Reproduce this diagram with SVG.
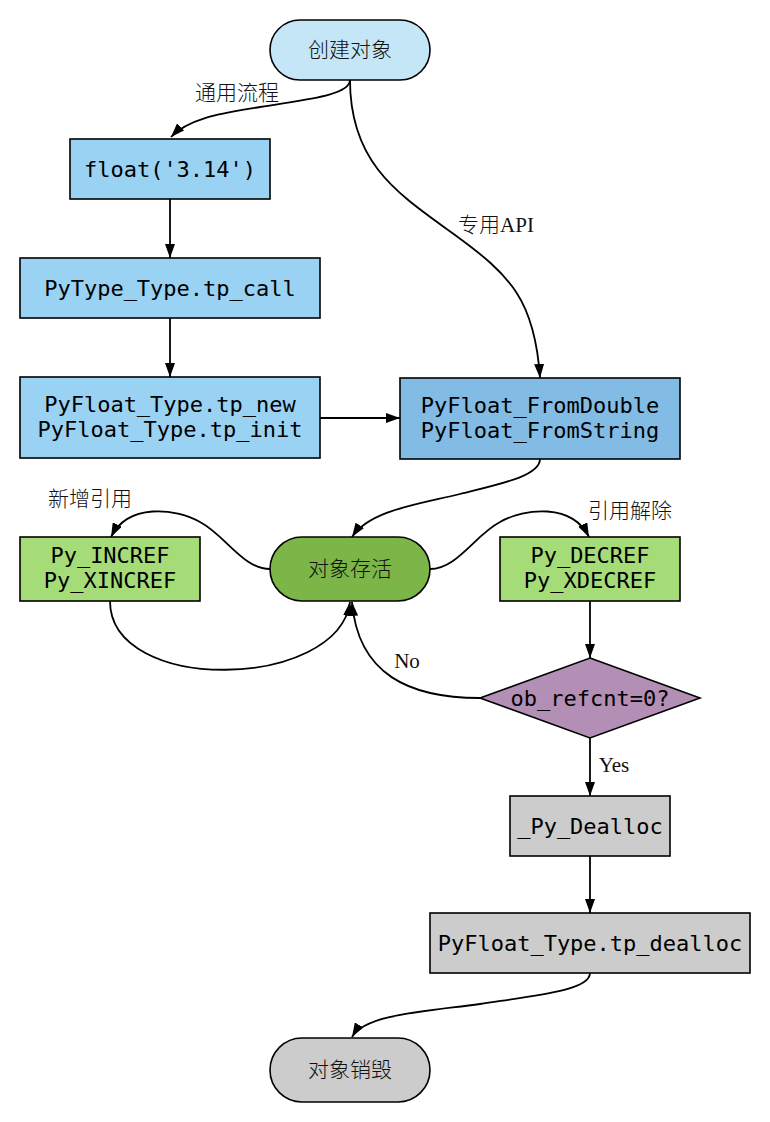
<svg xmlns="http://www.w3.org/2000/svg" width="770" height="1122" viewBox="0 0 770 1122">
<defs>
<marker id="arr" markerWidth="14" markerHeight="10" refX="14" refY="5" orient="auto" markerUnits="userSpaceOnUse">
<path d="M0,0 L14,5 L0,10 z" fill="#000"/>
</marker>
<style>
.n{stroke:#000;stroke-width:1.6}
.m{font-family:"DejaVu Sans Mono","Liberation Mono",monospace;font-size:22px;fill:#000;text-anchor:middle}
.c{font-family:"Noto Sans CJK SC","Liberation Sans",sans-serif;font-size:21px;fill:#111;text-anchor:middle;font-weight:300}
.l{font-family:"Liberation Serif","Noto Sans CJK SC",serif;font-size:21px;fill:#111;text-anchor:middle}
.lc{font-family:"Noto Sans CJK SC",sans-serif;font-weight:300}
.e{fill:none;stroke:#000;stroke-width:1.8;marker-end:url(#arr)}
</style>
</defs>
<rect width="770" height="1122" fill="#fff"/>
<g id="connectors">
<path class="e" d="M350,80 C350,96 300,100 260,107 C225,113 190,117 171,137"/>
<path class="e" d="M350,80 C350,165 400,195 455,235 C510,275 535,300 540,378"/>
<path class="e" d="M170,199 L170,258"/>
<path class="e" d="M170,318 L170,377"/>
<path class="e" d="M320,418 L400,418"/>
<path class="e" d="M540,459 C540,476 500,484 460,494 C420,504 370,510 352,537"/>
<path class="e" d="M270,569 C243,569 225,535 200,522 C175,508 128,503 111,537"/>
<path class="e" d="M430,569 C457,569 475,535 500,522 C525,508 572,503 589,537"/>
<path class="e" d="M110,601 C110,695 338,690 350,602"/>
<path class="e" d="M590,601 L590,658"/>
<path class="e" d="M480,698 C410,698 358,675 352,602"/>
<path class="e" d="M590,738 L590,796"/>
<path class="e" d="M590,856 L590,913"/>
<path class="e" d="M590,973 C590,990 540,995 480,1004 C420,1012 365,1015 352,1037"/>
<text class="l" x="237" y="100"><tspan class="lc">通用流程</tspan></text>
<text class="l" x="496" y="232"><tspan class="lc">专用</tspan>API</text>
<text class="l" x="90" y="506"><tspan class="lc">新增引用</tspan></text>
<text class="l" x="630" y="518"><tspan class="lc">引用解除</tspan></text>
<text class="l" x="407" y="668">No</text>
<text class="l" x="614" y="772">Yes</text>
</g>
<g id="n_create">
<rect class="n" x="270" y="20" width="160" height="60" rx="30" fill="#c4e6f7"/>
<text class="c" x="350" y="57">创建对象</text>
</g>
<g id="n_float">
<rect class="n" x="70" y="139" width="200" height="60" fill="#9ad2f3"/>
<text class="m" x="170" y="177">float('3.14')</text>
</g>
<g id="n_call">
<rect class="n" x="20" y="258" width="300" height="60" fill="#9ad2f3"/>
<text class="m" x="170" y="296">PyType_Type.tp_call</text>
</g>
<g id="n_new">
<rect class="n" x="20" y="377" width="300" height="81" fill="#9ad2f3"/>
<text class="m" x="170" y="412">PyFloat_Type.tp_new</text>
<text class="m" x="170" y="437">PyFloat_Type.tp_init</text>
</g>
<g id="n_from">
<rect class="n" x="400" y="378" width="280" height="81" fill="#82bce5"/>
<text class="m" x="540" y="413">PyFloat_FromDouble</text>
<text class="m" x="540" y="438">PyFloat_FromString</text>
</g>
<g id="n_alive">
<rect class="n" x="270" y="537" width="160" height="64" rx="32" fill="#7cb548"/>
<text class="c" x="350" y="576">对象存活</text>
</g>
<g id="n_incref">
<rect class="n" x="20" y="537" width="180" height="64" fill="#a5dc78"/>
<text class="m" x="110" y="563">Py_INCREF</text>
<text class="m" x="110" y="588">Py_XINCREF</text>
</g>
<g id="n_decref">
<rect class="n" x="500" y="537" width="180" height="64" fill="#a5dc78"/>
<text class="m" x="590" y="563">Py_DECREF</text>
<text class="m" x="590" y="588">Py_XDECREF</text>
</g>
<g id="n_check">
<polygon class="n" points="590,658 700,698 590,738 480,698" fill="#b38fb5"/>
<text class="m" x="590" y="706">ob_refcnt=0?</text>
</g>
<g id="n_dealloc">
<rect class="n" x="510" y="796" width="160" height="60" fill="#cccccc"/>
<text class="m" x="590" y="834">_Py_Dealloc</text>
</g>
<g id="n_tpdealloc">
<rect class="n" x="430" y="913" width="320" height="60" fill="#cccccc"/>
<text class="m" x="590" y="951">PyFloat_Type.tp_dealloc</text>
</g>
<g id="n_destroy">
<rect class="n" x="270" y="1038" width="160" height="64" rx="32" fill="#cccccc"/>
<text class="c" x="350" y="1077">对象销毁</text>
</g>
</svg>
